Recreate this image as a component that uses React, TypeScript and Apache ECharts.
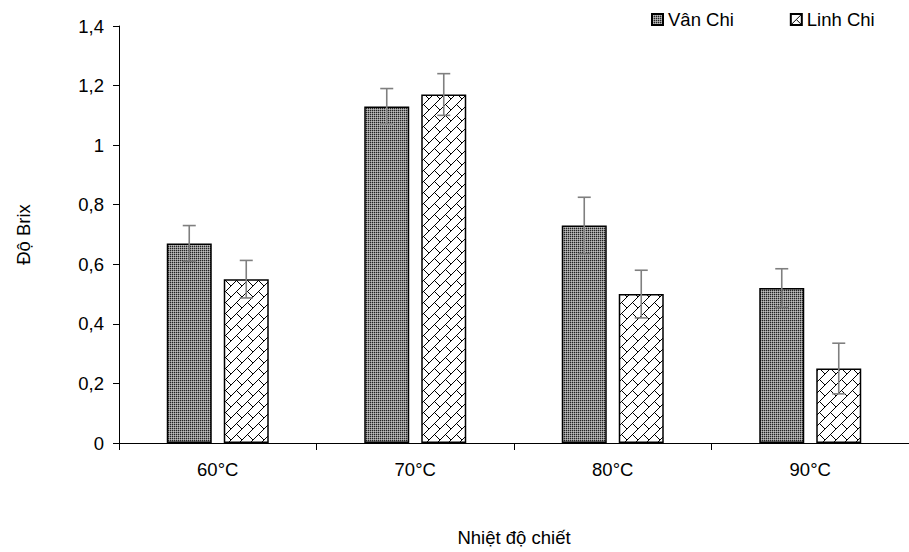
import React, { useEffect, useRef } from "react";
import * as echarts from "echarts";

const categories = ["60°C", "70°C", "80°C", "90°C"];
const seriesNames = ["Vân Chi", "Linh Chi"];
const vanChi = [0.67, 1.13, 0.73, 0.52];
const vanChiErr = [0.06, 0.06, 0.095, 0.065];
const linhChi = [0.55, 1.17, 0.5, 0.25];
const linhChiErr = [0.063, 0.07, 0.08, 0.085];
const yTicks = [0, 0.2, 0.4, 0.6, 0.8, 1, 1.2, 1.4];

const FONT = "'Liberation Sans', Arial, sans-serif";
const FS = 18.5;
const BAR_W = 45;
const BAR_GAP = 12;

function makeDotPattern(): string {
  const c = document.createElement("canvas");
  c.width = 2;
  c.height = 2;
  const ctx = c.getContext("2d")!;
  ctx.fillStyle = "#8c8c8c";
  ctx.fillRect(0, 0, 2, 2);
  ctx.fillStyle = "#222222";
  ctx.fillRect(0, 0, 1, 1);
  ctx.fillStyle = "#bdbdbd";
  ctx.fillRect(1, 1, 1, 1);
  return c.toDataURL();
}

function makeBrickPattern(T: number): string {
  const c = document.createElement("canvas");
  c.width = T;
  c.height = T;
  const ctx = c.getContext("2d")!;
  ctx.fillStyle = "#ffffff";
  ctx.fillRect(0, 0, T, T);
  ctx.strokeStyle = "#000000";
  ctx.lineWidth = 1;
  for (let dx = -1; dx <= 1; dx++) {
    for (let dy = -1; dy <= 1; dy++) {
      const ox = dx * T;
      const oy = dy * T;
      ctx.beginPath();
      ctx.moveTo(ox, oy + T);
      ctx.lineTo(ox + T, oy);
      ctx.stroke();
      ctx.beginPath();
      ctx.moveTo(ox + T / 2, oy + T / 2);
      ctx.lineTo(ox + T, oy + T);
      ctx.stroke();
    }
  }
  return c.toDataURL();
}

export default function App() {
  const ref = useRef<HTMLDivElement>(null);

  useEffect(() => {
    if (!ref.current) return;
    const chart = echarts.init(ref.current, undefined, { renderer: "svg" });
    const T = 11;
    const dotFill: any = { image: makeDotPattern(), repeat: "repeat", imageWidth: 2, imageHeight: 2 };
    const brickFill: any = { image: makeBrickPattern(T), repeat: "repeat", imageWidth: T, imageHeight: T };

    const offset = (BAR_W + BAR_GAP) / 2;
    const errData = (vals: number[], errs: number[]) => vals.map((v, i) => [i, v, errs[i]]);

    const errSeries = (name: string, vals: number[], errs: number[], dir: number) => ({
      type: "custom",
      name: name + " err",
      data: errData(vals, errs),
      encode: { x: 0, y: 1 },
      z: 5,
      silent: true,
      renderItem: (params: any, api: any) => {
        const x = api.value(0);
        const v = api.value(1);
        const e = api.value(2);
        const hi = api.coord([x, v + e]);
        const lo = api.coord([x, v - e]);
        const cx = hi[0] + dir * offset;
        const cap = 6.5;
        const st = { stroke: "#7f7f7f", lineWidth: 1.6 };
        return {
          type: "group",
          children: [
            { type: "line", shape: { x1: cx, y1: hi[1], x2: cx, y2: lo[1] }, style: st },
            { type: "line", shape: { x1: cx - cap, y1: hi[1], x2: cx + cap, y2: hi[1] }, style: st },
            { type: "line", shape: { x1: cx - cap, y1: lo[1], x2: cx + cap, y2: lo[1] }, style: st },
          ],
        };
      },
    });

    chart.setOption({
      animation: false,
      backgroundColor: "#ffffff",
      textStyle: { fontFamily: FONT },
      legend: {
        data: seriesNames,
        left: 646,
        top: 5,
        itemWidth: 11,
        itemHeight: 11,
        itemGap: 56,
        icon: "rect",
        textStyle: { fontFamily: FONT, fontSize: FS, color: "#000" },
      },
      grid: { left: 119, top: 26, width: 796, height: 422, containLabel: false },
      xAxis: {
        type: "category",
        data: categories,
        name: "Nhiệt độ chiết",
        nameLocation: "middle",
        nameGap: 85,
        nameTextStyle: { fontFamily: FONT, fontSize: FS, color: "#000" },
        axisLine: { lineStyle: { color: "#000", width: 1 } },
        axisTick: { show: true, length: 7, lineStyle: { color: "#000" } },
        axisLabel: { margin: 17, fontFamily: FONT, fontSize: FS, color: "#000" },
        splitLine: { show: false },
      },
      yAxis: {
        type: "value",
        min: 0,
        max: 1.4,
        interval: 0.2,
        name: "Độ Brix",
        nameLocation: "middle",
        nameRotate: 90,
        nameGap: 86,
        nameTextStyle: { fontFamily: FONT, fontSize: FS, color: "#000" },
        axisLine: { show: true, lineStyle: { color: "#000", width: 1 } },
        axisTick: { show: true, length: 6, lineStyle: { color: "#000" } },
        axisLabel: {
          margin: 15,
          fontFamily: FONT,
          fontSize: FS,
          color: "#000",
          formatter: (v: number) => {
            const t = yTicks.find((k) => Math.abs(k - v) < 1e-6);
            const val = t === undefined ? v : t;
            return String(Math.round(val * 10) / 10).replace(".", ",");
          },
        },
        splitLine: { show: false },
      },
      series: [
        {
          type: "bar",
          name: seriesNames[0],
          data: vanChi,
          barWidth: BAR_W,
          barGap: (BAR_GAP / BAR_W) * 100 + "%",
          itemStyle: { color: dotFill, borderColor: "#000", borderWidth: 1.5 },
          z: 2,
        },
        {
          type: "bar",
          name: seriesNames[1],
          data: linhChi,
          barWidth: BAR_W,
          itemStyle: { color: brickFill, borderColor: "#000", borderWidth: 1.5 },
          z: 2,
        },
        errSeries(seriesNames[0], vanChi, vanChiErr, -1),
        errSeries(seriesNames[1], linhChi, linhChiErr, 1),
      ],
    });

    return () => chart.dispose();
  }, []);

  return <div ref={ref} style={{ width: 909, height: 552, position: "absolute", left: 0, top: 0 }} />;
}
